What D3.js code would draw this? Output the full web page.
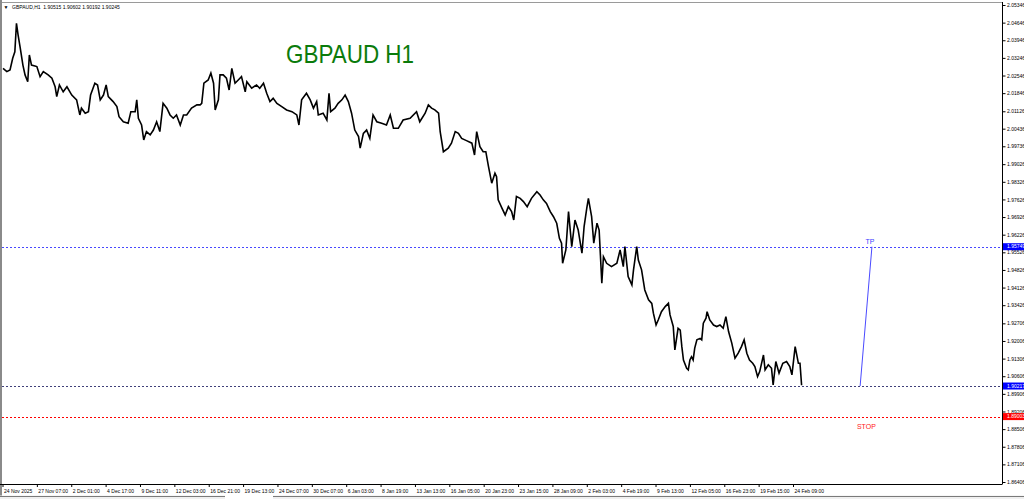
<!DOCTYPE html>
<html><head><meta charset="utf-8">
<script src="https://cdn.jsdelivr.net/npm/d3@7"></script>
<style>html,body{margin:0;padding:0;background:#fff;overflow:hidden}</style>
</head><body><svg id="c" width="1024" height="499"></svg>
<script>
// ---------- data ----------
const symbol = "GBPAUD,H1";
const headerPrices = [1.90515, 1.90602, 1.90192, 1.90245];
const chartTitle = "GBPAUD H1";

const barIndex = [1,8,14,19,23,26,29,33,38,42,47,50,54,64,70,76,85,92,98,101,106,113,120,129,138,144,147,154,160,164,172,177,182,188,193,197,206,213,217,225,234,239,247,250,253,259,263,268,275,281,287,293,299,306,312,318,324,331,337,343,352,362,368,371,375,383,388,393,396,402,405,411,417,422,427,433,439,445,452,455,464,473,479,486,492,498,504,511,520,529,539,548,552,557,566,573,579,585,588,597,604,608,611,619,625,632,638,644,650,656,663,666,672,678,684,690,697,706,715,722,728,737,746,759,771,777,787,793,799,805,812,815,821,830,836,843,849,855,864,874,879,883,889,895,900,905,911,917,920,923,930,936,942,948,952,957,964,970,977,985,995,1001,1007,1013,1020,1026,1032,1037,1041,1043,1049,1054,1060,1066,1072,1079,1083,1088,1091,1097,1101,1107,1111,1116,1119,1125,1134,1144,1150,1156,1159,1165,1172,1175,1181,1184,1190,1196,1203,1209,1212,1217,1221,1227,1234,1240,1243,1249,1252,1258,1262,1265,1268,1274,1277,1280,1283,1286,1289,1293,1299,1302,1305,1310,1312,1317,1324,1330,1336,1342,1347,1352,1358,1364,1370,1376,1381,1386,1391,1397,1401,1406,1410,1417,1420,1426,1432,1435,1440,1446,1453,1460,1466,1470,1476,1482,1485,1488];

const closePrice = [2.0283,2.0270,2.0277,2.0323,2.0349,2.0462,2.0416,2.0364,2.0296,2.0257,2.0230,2.0336,2.0296,2.0290,2.0250,2.0270,2.0257,2.0244,2.0210,2.0171,2.0217,2.0190,2.0210,2.0177,2.0158,2.0098,2.0125,2.0105,2.0111,2.0177,2.0224,2.0217,2.0158,2.0177,2.0217,2.0171,2.0151,2.0131,2.0091,2.0071,2.0065,2.0111,2.0111,2.0158,2.0085,2.0058,1.9999,2.0032,2.0019,2.0038,2.0071,2.0032,2.0144,2.0125,2.0098,2.0085,2.0098,2.0058,2.0098,2.0098,2.0125,2.0138,2.0138,2.0144,2.0224,2.0237,2.0264,2.0224,2.0118,2.0158,2.0257,2.0257,2.0244,2.0197,2.0283,2.0224,2.0237,2.0250,2.0190,2.0230,2.0204,2.0217,2.0204,2.0224,2.0184,2.0151,2.0164,2.0144,2.0131,2.0118,2.0111,2.0098,2.0058,2.0158,2.0184,2.0158,2.0125,2.0151,2.0098,2.0105,2.0078,2.0184,2.0111,2.0125,2.0144,2.0158,2.0177,2.0151,2.0105,2.0038,2.0012,1.9966,2.0025,2.0038,2.0005,2.0098,2.0071,2.0065,2.0058,2.0098,2.0045,2.0045,2.0078,2.0085,2.0111,2.0071,2.0105,2.0138,2.0125,2.0118,2.0105,2.0032,1.9952,1.9966,1.9986,2.0032,2.0025,2.0005,1.9996,1.9986,1.9939,2.0032,1.9972,1.9952,1.9952,1.9893,1.9827,1.9867,1.9853,1.9761,1.9728,1.9701,1.9734,1.9714,1.9681,1.9774,1.9767,1.9754,1.9734,1.9767,1.9793,1.9780,1.9761,1.9747,1.9714,1.9694,1.9668,1.9608,1.9589,1.9509,1.9562,1.9714,1.9575,1.9681,1.9641,1.9549,1.9655,1.9728,1.9767,1.9694,1.9589,1.9668,1.9641,1.9430,1.9535,1.9509,1.9496,1.9509,1.9562,1.9496,1.9575,1.9456,1.9423,1.9483,1.9575,1.9522,1.9483,1.9403,1.9364,1.9350,1.9311,1.9264,1.9284,1.9317,1.9337,1.9350,1.9304,1.9258,1.9165,1.9251,1.9244,1.9178,1.9125,1.9092,1.9086,1.9125,1.9138,1.9125,1.9172,1.9205,1.9211,1.9205,1.9271,1.9291,1.9317,1.9284,1.9264,1.9258,1.9264,1.9251,1.9297,1.9238,1.9192,1.9132,1.9152,1.9178,1.9205,1.9152,1.9125,1.9112,1.9099,1.9059,1.9079,1.9145,1.9086,1.9106,1.9092,1.9026,1.9119,1.9073,1.9112,1.9119,1.9099,1.9066,1.9178,1.9112,1.9112,1.90245];

const timeLabels = ["24 Nov 2025","27 Nov 07:00","2 Dec 01:00","4 Dec 17:00","9 Dec 11:00","12 Dec 03:00","16 Dec 21:00","19 Dec 13:00","24 Dec 07:00","30 Dec 07:00","6 Jan 03:00","8 Jan 19:00","13 Jan 13:00","16 Jan 05:00","20 Jan 23:00","23 Jan 15:00","28 Jan 09:00","2 Feb 03:00","4 Feb 19:00","9 Feb 13:00","12 Feb 05:00","16 Feb 23:00","19 Feb 15:00","24 Feb 09:00"];
const timeLabelBars = [0,64,128,192,256,320,384,448,512,576,640,704,768,832,896,960,1024,1088,1152,1216,1280,1344,1408,1472];

const priceTicks = [2.05346,2.04646,2.03946,2.03246,2.02546,2.01846,2.01126,2.00436,1.99736,1.99026,1.98326,1.97626,1.96926,1.96226,1.95526,1.94826,1.94126,1.93426,1.92706,1.92006,1.91306,1.90606,1.89906,1.89206,1.88506,1.87806,1.87106,1.86406];

const bidPrice = 1.90217;
const tpPrice = 1.95749;
const stopPrice = 1.89003;
const tpLineBars = [1597, 1619];
const tpLinePrices = [1.90217, 1.95749];

// ---------- layout ----------
const svg = d3.select("#c");
const plotRight = 1002.5, plotBottom = 484, plotTop = 3;
const x = d3.scaleLinear().domain([0, 1488]).range([2.5, 801.6]);
const y = d3.scaleLinear().domain([2.05346, 1.86406]).range([5, 482]);
const smallFont = "'Liberation Sans', Arial, sans-serif";

svg.append("rect").attr("width",1024).attr("height",499).attr("fill","#fff");

// horizontal level lines
function hline(price, color, dash) {
  svg.append("line").attr("x1",2).attr("x2",plotRight)
    .attr("y1",Math.round(y(price))+0.5).attr("y2",Math.round(y(price))+0.5)
    .attr("stroke",color).attr("stroke-width",1).attr("stroke-dasharray",dash)
    .attr("shape-rendering","crispEdges");
}
hline(tpPrice, "#4848ff", "2,2");
hline(bidPrice, "#40407a", "2,2");
hline(stopPrice, "#ff0000", "2,2");

// price line
const line = d3.line().x((d,i)=>x(barIndex[i])).y(d=>y(d));
svg.append("path").datum(closePrice).attr("d",line)
  .attr("fill","none").attr("stroke","#000").attr("stroke-width",1.6)
  .attr("stroke-linejoin","miter");

// TP trend line
svg.append("line")
  .attr("x1",x(tpLineBars[0])).attr("y1",y(tpLinePrices[0]))
  .attr("x2",x(tpLineBars[1])).attr("y2",y(tpLinePrices[1]))
  .attr("stroke","#4a4aff").attr("stroke-width",1);

svg.append("text").attr("x",x(tpLineBars[1])-2).attr("y",y(tpPrice)-3)
  .attr("text-anchor","middle").attr("font-family",smallFont).attr("font-size",7)
  .attr("fill","#3b3bff").text("TP");
svg.append("text").attr("x",x(1591)).attr("y",y(stopPrice)+12)
  .attr("font-family",smallFont).attr("font-size",7)
  .attr("fill","#ff2020").text("STOP");

// title
svg.append("text").attr("x",286).attr("y",63)
  .attr("font-family","'Liberation Sans', Arial, sans-serif").attr("font-size",25)
  .attr("textLength",128).attr("lengthAdjust","spacingAndGlyphs")
  .attr("fill","#0b7b0b").text(chartTitle);

// header
svg.append("text").attr("x",3.5).attr("y",9).attr("font-family",smallFont)
  .attr("font-size",5).attr("fill","#000").text("\u25BC");
svg.append("text").attr("x",12).attr("y",9).attr("font-family",smallFont)
  .attr("font-size",5).attr("fill","#000").attr("xml:space","preserve")
  .text(symbol + "  " + headerPrices.map(d=>d.toFixed(5)).join(" "));

// frame
svg.append("line").attr("x1",0).attr("x2",plotRight).attr("y1",plotTop-0.5).attr("y2",plotTop-0.5).attr("stroke","#9a9a9a");
svg.append("rect").attr("x",0).attr("y",0).attr("width",2).attr("height",499).attr("fill","#8a8a8a");

// right axis
const ya = svg.append("g").attr("transform",`translate(${plotRight},0)`)
  .call(d3.axisRight(y).tickValues(priceTicks).tickSize(3).tickPadding(1.5).tickFormat(d3.format(".5f")));
ya.select(".domain").remove();
ya.selectAll("text").attr("font-family",smallFont).attr("font-size",5).attr("fill","#000");
svg.append("line").attr("x1",plotRight).attr("x2",plotRight).attr("y1",plotTop-1).attr("y2",plotBottom).attr("stroke","#000");

// bottom axis
const xa = svg.append("g").attr("transform",`translate(0,${plotBottom})`)
  .call(d3.axisBottom(x).tickValues(timeLabelBars).tickSize(3).tickPadding(2)
    .tickFormat((d,i)=>timeLabels[i]));
xa.select(".domain").remove();
xa.selectAll("text").attr("text-anchor","start").attr("dx",1).attr("font-family",smallFont).attr("font-size",5).attr("fill","#000");
svg.append("line").attr("x1",0).attr("x2",plotRight).attr("y1",plotBottom+0.5).attr("y2",plotBottom+0.5).attr("stroke","#000");

// price badges
function badge(price, color) {
  const yy = y(price);
  svg.append("rect").attr("x",plotRight+0.5).attr("y",yy-3.5).attr("width",22).attr("height",7).attr("fill",color);
  svg.append("text").attr("x",plotRight+4.5).attr("y",yy+1.8).attr("font-family",smallFont)
    .attr("font-size",5).attr("fill","#fff").text(price.toFixed(5));
}
badge(tpPrice, "#0000ff");
badge(bidPrice, "#0000ff");
badge(stopPrice, "#ff0000");

// bottom tab strip
svg.append("rect").attr("x",0).attr("y",495.5).attr("width",1024).attr("height",3.5).attr("fill","#f0f0f0");
svg.append("line").attr("x1",0).attr("x2",225).attr("y1",496.5).attr("y2",496.5).attr("stroke","#7a7a7a");
svg.append("line").attr("x1",273).attr("x2",1024).attr("y1",496.5).attr("y2",496.5).attr("stroke","#7a7a7a");
svg.append("rect").attr("x",225).attr("y",495).attr("width",48).attr("height",4).attr("fill","#fff");
</script>
</body></html>
